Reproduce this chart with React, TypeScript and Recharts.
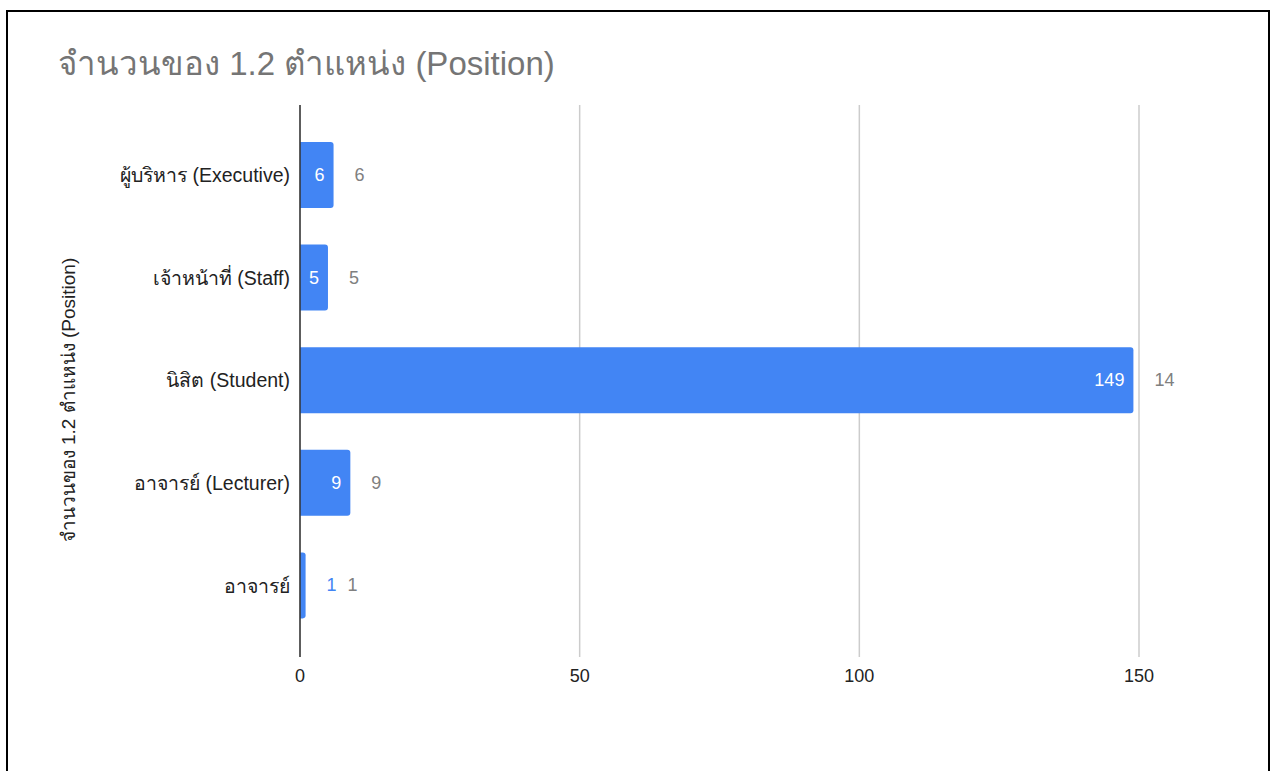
import { FC } from "react";
import {
  Bar,
  BarChart,
  CartesianGrid,
  LabelList,
  XAxis,
  YAxis,
} from "recharts";

const positions = [
  "ผู้บริหาร (Executive)",
  "เจ้าหน้าที่ (Staff)",
  "นิสิต (Student)",
  "อาจารย์ (Lecturer)",
  "อาจารย์",
];
const counts = [6, 5, 149, 9, 1];
const xTicks = [0, 50, 100, 150];

const chartTitle = "จำนวนของ 1.2 ตำแหน่ง (Position)";
const axisTitle = "จำนวนของ 1.2 ตำแหน่ง (Position)";

const data = positions.map((name, i) => ({ name, value: counts[i] }));

const FONT = "'Liberation Sans', Arial, sans-serif";
const BLUE = "#4285F4";
const CLIP_RIGHT = 1175;

const ValueLabel: FC<any> = ({ x, y, width, height, value, index }) => {
  const end = x + width;
  const cy = y + height / 2;
  const txt = String(value);
  const textW = txt.length * 10;
  const fits = width >= textW + 14;
  const grayX = fits ? end + 21 : end + 21 + textW + 11;
  return (
    <g>
      <defs>
        <clipPath id={`lbl-clip-${index}`}>
          <rect x={0} y={0} width={CLIP_RIGHT} height={771} />
        </clipPath>
      </defs>
      {fits ? (
        <text
          x={end - 9}
          y={cy}
          fill="#ffffff"
          fontSize={18}
          fontFamily={FONT}
          textAnchor="end"
          dominantBaseline="central"
        >
          {txt}
        </text>
      ) : (
        <text
          x={end + 21}
          y={cy}
          fill={BLUE}
          fontSize={18}
          fontFamily={FONT}
          textAnchor="start"
          dominantBaseline="central"
        >
          {txt}
        </text>
      )}
      <text
        x={grayX}
        y={cy}
        fill="#808080"
        fontSize={18}
        fontFamily={FONT}
        textAnchor="start"
        dominantBaseline="central"
        clipPath={`url(#lbl-clip-${index})`}
      >
        {txt}
      </text>
    </g>
  );
};

const AxisTitle: FC<any> = () => (
  <text
    x={68}
    y={400}
    transform="rotate(-90, 68, 400)"
    fill="#222222"
    fontSize={19}
    fontFamily={FONT}
    textAnchor="middle"
    dominantBaseline="central"
  >
    {axisTitle}
  </text>
);

const App: FC = () => {
  return (
    <div style={{ position: "absolute", left: 0, top: 0, width: 1279, height: 771 }}>
      <div
        style={{
          position: "absolute",
          left: 6,
          top: 10,
          width: 1260,
          height: 800,
          border: "2px solid #000",
        }}
      />
      <div
        style={{
          position: "absolute",
          left: 58,
          top: 45,
          fontFamily: FONT,
          fontSize: 33,
          color: "#757575",
          whiteSpace: "nowrap",
          lineHeight: "38px",
        }}
      >
        {chartTitle}
      </div>
      <div style={{ position: "absolute", left: 0, top: 0 }}>
        <BarChart
          width={1279}
          height={771}
          data={data}
          layout="vertical"
          margin={{ top: 105, right: 140, bottom: 74, left: 0 }}
        >
          <CartesianGrid horizontal={false} stroke="#cccccc" strokeWidth={1.5} />
          <XAxis
            type="number"
            domain={[0, 150]}
            ticks={xTicks}
            axisLine={false}
            tickLine={false}
            tickSize={0}
            tickMargin={12}
            height={40}
            tick={{ fill: "#222222", fontSize: 18, fontFamily: FONT }}
          />
          <YAxis
            type="category"
            dataKey="name"
            width={300}
            padding={{ top: 19, bottom: 20 }}
            axisLine={{ stroke: "#333333", strokeWidth: 1.5 }}
            tickLine={false}
            tickSize={0}
            tickMargin={10}
            tick={{ fill: "#222222", fontSize: 19.5, fontFamily: FONT }}
            label={<AxisTitle />}
          />
          <Bar
            dataKey="value"
            fill={BLUE}
            barSize={66}
            radius={[0, 3, 3, 0]}
            isAnimationActive={false}
          >
            <LabelList dataKey="value" content={<ValueLabel />} />
          </Bar>
        </BarChart>
      </div>
    </div>
  );
};

export default App;
